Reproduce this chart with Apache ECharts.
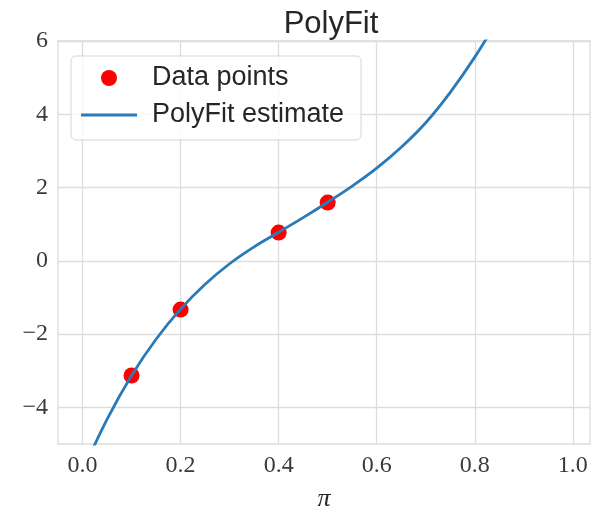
<!DOCTYPE html>
<html>
<head>
<meta charset="utf-8">
<script src="https://cdn.jsdelivr.net/npm/echarts@6/dist/echarts.min.js"></script>
<style>
  html, body { margin: 0; padding: 0; background: #fff; }
  #chart { width: 591px; height: 509px; }
</style>
</head>
<body>
<div id="chart"></div>
<script>
// measured points
const dataX = [0.1, 0.2, 0.4, 0.5];
const dataY = [-3.13, -1.33, 0.77, 1.59];

// fitted curve
const fitX = [0.0, 0.05, 0.1, 0.15, 0.2, 0.25, 0.3, 0.35, 0.4, 0.45, 0.5, 0.55, 0.6, 0.65, 0.7, 0.75, 0.8, 0.85];
const fitY = [-5.75, -4.33, -3.13, -2.14, -1.32, -0.64, -0.08, 0.38, 0.78, 1.18, 1.6, 2.04, 2.53, 3.1, 3.77, 4.6, 5.56, 6.65];

const xTicks = [0, 0.2, 0.4, 0.6, 0.8, 1.0];
const yTicks = [-4, -2, 0, 2, 4, 6];

const gridColor = "#dddddd";
const lineColor = "#2a7ab8";
const tickFont = { fontFamily: "Liberation Serif", fontSize: 24, color: "#3a3a3a" };

const chart = echarts.init(document.getElementById("chart"), null, { renderer: "canvas" });

chart.setOption({
  animation: false,
  backgroundColor: "#ffffff",
  title: {
    text: "PolyFit",
    left: 326,
    textAlign: "center",
    top: 4,
    textStyle: { fontFamily: "Liberation Sans", fontSize: 31, fontWeight: "normal", color: "#262626" },
  },
  legend: {
    orient: "vertical",
    left: 71,
    top: 56,
    padding: [7, 17, 10, 10],
    itemGap: 7,
    itemWidth: 56,
    itemHeight: 16,
    borderColor: "#d5d5d5",
    borderWidth: 1,
    borderRadius: 5,
    backgroundColor: "rgba(255,255,255,0.8)",
    textStyle: { fontFamily: "Liberation Sans", fontSize: 27, color: "#262626", lineHeight: 30, padding: [0, 0, 0, 10] },
    data: [
      { name: "Data points", icon: "circle" },
      { name: "PolyFit estimate", icon: "path://M0,0 L56,0 L56,3 L0,3 Z" },
    ],
  },
  grid: {
    left: 58,
    top: 41,
    right: 1,
    bottom: 65,
    show: true,
    borderColor: gridColor,
    borderWidth: 1.3,
    containLabel: false,
    outerBoundsMode: "none",
  },
  xAxis: {
    type: "value",
    min: -0.05,
    max: 1.035,
    name: "π",
    nameLocation: "middle",
    nameGap: 42,
    nameTextStyle: { fontFamily: "Liberation Serif", fontStyle: "italic", fontSize: 26, color: "#262626" },
    axisLine: { show: false },
    axisTick: { show: false, customValues: xTicks },
    axisLabel: { customValues: xTicks, margin: 10, formatter: (v) => v.toFixed(1), ...tickFont },
    splitLine: { show: true, lineStyle: { color: gridColor, width: 1.3 } },
  },
  yAxis: {
    type: "value",
    min: -5,
    max: 6,
    axisLine: { show: false },
    axisTick: { show: false, customValues: yTicks },
    axisLabel: {
      customValues: yTicks,
      margin: 10,
      formatter: (v) => (v < 0 ? "\u2212" + Math.abs(v) : String(v)),
      ...tickFont,
    },
    splitLine: { show: true, lineStyle: { color: gridColor, width: 1.3 } },
  },
  series: [
    {
      name: "Data points",
      type: "scatter",
      symbol: "circle",
      symbolSize: 16,
      itemStyle: { color: "#ff0000", opacity: 1 },
      data: dataX.map((x, i) => [x, dataY[i]]),
      z: 2,
    },
    {
      name: "PolyFit estimate",
      type: "line",
      symbol: "none",
      smooth: 0.4,
      clip: true,
      lineStyle: { color: lineColor, width: 2.8 },
      itemStyle: { color: lineColor },
      data: fitX.map((x, i) => [x, fitY[i]]),
      z: 3,
    },
  ],
});
</script>
</body>
</html>
